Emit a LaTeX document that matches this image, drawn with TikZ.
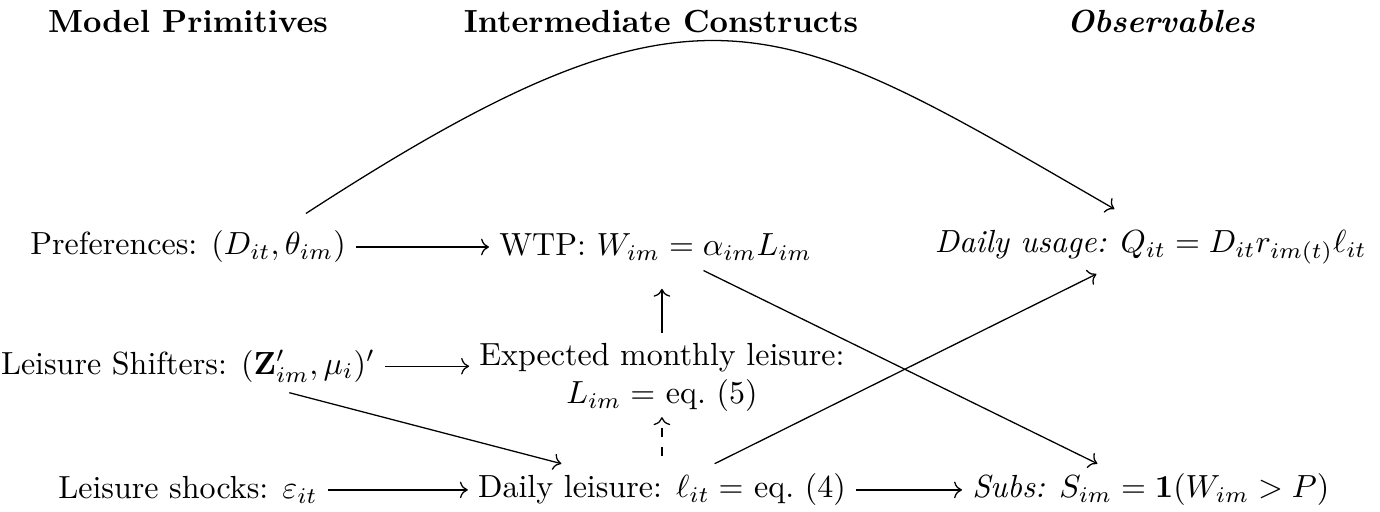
\documentclass[tikz,border=0pt]{standalone}
\usepackage{amsmath,amssymb}
\usepackage{tikz}
\usetikzlibrary{positioning,calc}
\usetikzlibrary{arrows.meta}
\tikzset{
  cell/.style={inner sep=3pt,align=center},
  hdr/.style={font=\bfseries,inner sep=3pt},
  link/.style={draw=black,line width=0.4pt,-To},
}

\begin{document}
\begin{tikzpicture}[scale=1]
\useasboundingbox (0,0) rectangle (15.157,5.623);
% headings
\node[hdr] (hmod) at (2.065,5.382) {Model Primitives};
\node[hdr] (hint) at (7.26,5.382) {Intermediate Constructs};
\node[hdr] (hobs) at (12.75,5.382) {\textit{Observables}};
% nodes
\node[cell] (pref) at (2.065,2.91) {Preferences: $(D_{it},\theta_{im})$};
\node[cell] (wtp) at (7.2,2.91) {WTP: $W_{im}=\alpha_{im}L_{im}$};
\node[cell] (usage) at (12.64,2.91) {\textit{Daily usage:} $Q_{it}=D_{it}r_{im(t)}\ell_{it}$};
\node[cell] (shift) at (2.065,1.6) {Leisure Shifters: $(\mathbf{Z}'_{im},\mu_i)'$};
\node[cell] (expl) at (7.27,1.48) {Expected monthly leisure:\\ $L_{im}=$ eq.~(5)};
\node[cell] (shock) at (2.065,0.242) {Leisure shocks: $\varepsilon_{it}$};
\node[cell] (daily) at (7.27,0.242) {Daily leisure: $\ell_{it}=$ eq.~(4)};
\node[cell] (subs) at (12.64,0.242) {\textit{Subs:} $S_{im}=\mathbf{1}(W_{im}>P)$};
% arrows
\draw[link] (pref) -- (wtp);
\draw[link] (shift.east) -- (shift.east -| expl.west);
\draw[link] (shock) -- (daily);
\draw[link] (daily) -- (subs);
\draw[link,shorten >=0.2cm] (expl.north -| daily) -- (wtp.south -| daily);
\draw[link,dashed,shorten <=0.08cm,shorten >=-0.05cm] (daily.north) -- (expl.south);
\draw[link] (shift) -- (daily);
\draw[link] (daily) -- (usage);
\draw[link] (wtp) -- (subs);
\draw[link] ([shift={(-0.55,0.08)}]pref.north east) .. controls +(33:5.2) and +(150:4.3) .. ([shift={(-0.4,0.12)}]usage.north);
\end{tikzpicture}
\end{document}
